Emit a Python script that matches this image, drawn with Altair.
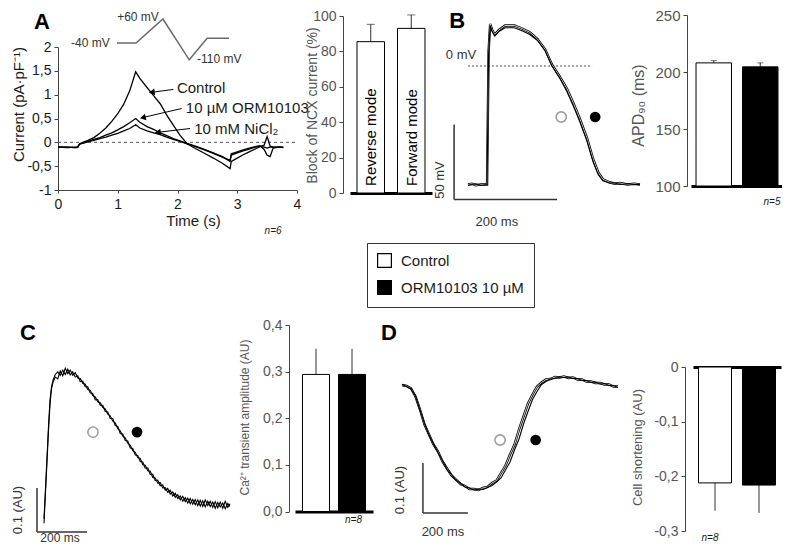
import altair as alt
import pandas as pd

# ============================== DATA ==============================
# ---- Panel A: NCX current evoked by the ramp protocol (time s, current pA/pF)
A_time = [0.0, 0.15, 0.3, 0.33, 0.36, 0.5, 0.6, 0.7, 0.8, 0.9, 1.0, 1.1, 1.2, 1.3, 1.37,
          1.49, 1.6, 1.71, 1.82, 1.93, 2.04, 2.16, 2.3, 2.45, 2.6, 2.75, 2.88, 2.9, 3.0, 3.1,
          3.2, 3.3, 3.38, 3.45, 3.5, 3.55, 3.6, 3.7, 3.77]
A_control = [-0.1, -0.1, -0.11, -0.1, -0.03, 0.04, 0.1, 0.19, 0.3, 0.44, 0.6, 0.8, 1.08, 1.48, 1.34,
             1.15, 0.98, 0.81, 0.57, 0.36, 0.15, -0.03, -0.13, -0.23, -0.33, -0.44, -0.55, -0.4, -0.33, -0.26,
             -0.2, -0.14, -0.09, -0.06, 0.12, -0.08, -0.1, -0.1, -0.1]
A_orm = [-0.1, -0.1, -0.11, -0.1, -0.04, 0.02, 0.06, 0.1, 0.15, 0.2, 0.26, 0.33, 0.41, 0.5, 0.42,
         0.33, 0.27, 0.2, 0.14, 0.08, 0.03, -0.02, -0.08, -0.15, -0.22, -0.3, -0.4, -0.27, -0.22, -0.18,
         -0.14, -0.1, -0.08, -0.1, -0.12, -0.1, -0.1, -0.1, -0.1]
A_nicl2 = [-0.1, -0.11, -0.1, -0.1, -0.04, 0.01, 0.04, 0.08, 0.11, 0.15, 0.19, 0.24, 0.29, 0.37, 0.3,
           0.24, 0.2, 0.16, 0.11, 0.06, 0.02, -0.03, -0.09, -0.16, -0.23, -0.31, -0.38, -0.24, -0.2, -0.16,
           -0.12, -0.09, -0.07, -0.15, -0.27, -0.3, -0.12, -0.1, -0.11]
# voltage-ramp protocol (inset)
A_prot_time = [0, 0.34, 0.82, 1.29, 1.61, 2.0]
A_prot_mv = [-40, -40, 60, -110, -20, -20]
A_prot_labels = ["-40 mV", "+60 mV", "-110 mV"]
A_prot_label_time = [-0.13, 0.375, 1.43]
A_prot_label_mv = [-40, 68, -107]
# trace labels and arrows
A_trace_labels = ["Control", "10 µM ORM10103", "10 mM NiCl₂"]
A_label_time = [1.99, 2.14, 2.28]
A_label_current = [1.13, 0.71, 0.29]
A_arrow_from_time = [1.93, 2.07, 2.21]
A_arrow_from_current = [1.11, 0.71, 0.29]
A_arrow_to_time = [1.57, 1.42, 1.67]
A_arrow_to_current = [1.05, 0.52, 0.21]
# block of NCX current (%)
A_modes = ["Reverse mode", "Forward mode"]
A_block_mean = [85.5, 93]
A_block_sem = [9.8, 7.6]

GROUPS = ["Control", "ORM10103 10 µM"]

# ---- Panel B: action potential (time ms, membrane potential mV) + APD90
B_time = [0, 8, 15, 25, 37, 40, 43, 47, 52, 60, 72, 90, 105, 120, 135, 150, 163, 178, 192, 205,
          217, 231, 243, 253, 262, 275, 285, 295, 310, 322, 334]
B_control = [-79, -78.5, -79.5, -79, -79, 10, 28, 24, 21, 24, 27, 27, 25, 22.5, 18, 11, 1, -7, -15, -25,
             -35, -48, -62, -71, -75.5, -77.5, -78.5, -78, -79, -78.5, -79]
B_orm = [-79.5, -79, -78.5, -79.5, -79, 8, 27, 23, 20, 23, 25.5, 25.5, 23.5, 21, 17, 10, 0, -8, -17, -27,
         -37, -50, -64, -72.5, -76.5, -78, -78, -79, -78.5, -79, -79]
B_apd_mean = [208, 204.5]
B_apd_sem = [2, 3.5]

# ---- Panel C: Ca2+ transient (time ms, fluorescence AU) + amplitude
C_time = [0, 6, 12, 18, 24, 30, 36] + list(range(45, 745, 10)) + [744]
C_control = [0.02, 0.09, 0.16, 0.23, 0.29, 0.325, 0.34,
             0.352, 0.348, 0.366, 0.355, 0.372, 0.36, 0.368, 0.356, 0.362, 0.35,
             0.349, 0.338, 0.336, 0.324, 0.322, 0.31, 0.307, 0.296, 0.294, 0.283,
             0.28, 0.268, 0.264, 0.252, 0.248, 0.235, 0.23, 0.218, 0.214, 0.202,
             0.197, 0.185, 0.181, 0.169, 0.167, 0.153, 0.152, 0.139, 0.138, 0.124,
             0.123, 0.111, 0.112, 0.1, 0.101, 0.09, 0.095, 0.082, 0.088, 0.076,
             0.082, 0.07, 0.078, 0.066, 0.076, 0.063, 0.074, 0.06, 0.072, 0.058,
             0.073, 0.06, 0.07, 0.056, 0.069, 0.055, 0.068, 0.054, 0.07, 0.056,
             0.064]
C_orm = [0.03, 0.1, 0.17, 0.24, 0.3, 0.33, 0.345,
         0.358, 0.364, 0.356, 0.368, 0.358, 0.37, 0.357, 0.364, 0.352, 0.355,
         0.342, 0.343, 0.33, 0.33, 0.316, 0.315, 0.3, 0.301, 0.288, 0.288,
         0.274, 0.273, 0.258, 0.258, 0.242, 0.24, 0.224, 0.223, 0.208, 0.207,
         0.191, 0.19, 0.175, 0.174, 0.16, 0.159, 0.145, 0.146, 0.131, 0.131,
         0.117, 0.118, 0.105, 0.107, 0.095, 0.099, 0.086, 0.091, 0.079, 0.085,
         0.073, 0.081, 0.069, 0.077, 0.064, 0.074, 0.062, 0.073, 0.059, 0.071,
         0.057, 0.07, 0.058, 0.068, 0.054, 0.067, 0.057, 0.066, 0.053, 0.065,
         0.058]
C_amp_mean = [0.294, 0.294]
C_amp_sem = [0.055, 0.055]

# ---- Panel D: cell shortening (time ms, shortening AU) + mean shortening
D_time = list(range(0, 961, 20))
D_control = [0.0, -0.002, -0.007, -0.023, -0.049, -0.079, -0.099, -0.119, -0.133, -0.153,
             -0.167, -0.181, -0.189, -0.198, -0.202, -0.208, -0.208, -0.21, -0.206, -0.204,
             -0.196, -0.191, -0.176, -0.161, -0.139, -0.119, -0.089, -0.063, -0.037, -0.019,
             -0.003, 0.005, 0.011, 0.012, 0.016, 0.015, 0.017, 0.014, 0.015, 0.011,
             0.011, 0.007, 0.007, 0.004, 0.004, 0.001, 0.001, -0.003, -0.003]
D_orm = [0.001, -0.003, -0.008, -0.022, -0.05, -0.077, -0.1, -0.118, -0.135, -0.151,
         -0.169, -0.179, -0.191, -0.196, -0.204, -0.206, -0.21, -0.208, -0.209, -0.205,
         -0.201, -0.194, -0.186, -0.17, -0.154, -0.13, -0.108, -0.078, -0.053, -0.029,
         -0.013, 0.001, 0.007, 0.012, 0.013, 0.016, 0.015, 0.016, 0.013, 0.013,
         0.009, 0.009, 0.005, 0.006, 0.002, 0.003, -0.001, -0.001, -0.005]
D_short_mean = [-0.212, -0.216]
D_short_sem = [0.051, 0.051]

# ============================ LAYOUT ==============================
W, H = 774, 536
M = 8  # page margin around the canvas

FONT = "Liberation Sans"
INK = "#1a1a1a"
GREY = "#555555"
AXC = "#444444"


def P(v):
    return v - M


def lin(domain, page_range):
    return alt.Scale(domain=domain, range=[P(page_range[0]), P(page_range[1])], nice=False, zero=False)


def band(domain, page_range, inner, outer):
    return alt.Scale(domain=domain, range=[P(page_range[0]), P(page_range[1])],
                     paddingInner=inner, paddingOuter=outer)


def num_labels(fmt):
    return "replace(replace(format(datum.value, '%s'), '.', ','), '\u2212', '-')" % fmt


def y_axis(page_x, values, title, title_page_x, title_page_y, title_size, color, fmt,
           label_size=14):
    return alt.Axis(orient="left", offset=-P(page_x), values=values, grid=False,
                    labelExpr=num_labels(fmt), labelFontSize=label_size, labelColor=color,
                    domainColor=AXC, tickColor=AXC, tickSize=4, labelPadding=3,
                    title=title, titleFontSize=title_size, titleFontWeight="normal",
                    titleColor=color, titleAngle=270, titleAlign="center",
                    titleBaseline="middle", titleX=title_page_x - page_x,
                    titleY=P(title_page_y))


def base_axis(orient, page_y):
    off = P(page_y) - H if orient == "bottom" else -P(page_y)
    return alt.Axis(orient=orient, offset=off, labels=False, ticks=False, grid=False,
                    domainColor="black", domainWidth=3, title=None)


def qx(field, xs, axis=None):
    return alt.X(field, type="quantitative", scale=xs, axis=axis)


def qy(field, ys, axis=None):
    return alt.Y(field, type="quantitative", scale=ys, axis=axis)


def texts(labels, xv, yv, xs, ys, **kw):
    df = pd.DataFrame({"x": xv, "y": yv, "label": labels})
    return alt.Chart(df).mark_text(**kw).encode(x=qx("x", xs), y=qy("y", ys), text="label:N")


def band_texts(cats, labels, yv, xs, ys, **kw):
    df = pd.DataFrame({"g": cats, "y": yv, "label": labels})
    return alt.Chart(df).mark_text(**kw).encode(
        x=alt.X("g:N", scale=xs, axis=None), y=qy("y", ys), text="label:N")


def segments(x0, y0, x1, y1, xs, ys, **kw):
    df = pd.DataFrame({"x0": x0, "y0": y0, "x1": x1, "y1": y1})
    return alt.Chart(df).mark_rule(**kw).encode(x=qx("x0", xs), y=qy("y0", ys), x2="x1:Q", y2="y1:Q")


def markers(xv, yv, xs, ys):
    df = pd.DataFrame({"x": xv, "y": yv})
    open_c = alt.Chart(df.iloc[[0]]).mark_point(shape="circle", filled=False, size=105,
                                                stroke="#777777", strokeWidth=1.6).encode(
        x=qx("x", xs), y=qy("y", ys))
    full_c = alt.Chart(df.iloc[[1]]).mark_point(shape="circle", filled=True, size=115,
                                                color="black", opacity=1).encode(
        x=qx("x", xs), y=qy("y", ys))
    return [open_c, full_c]


def paired_traces(t, ctrl, orm, xs, ys, outer_w=2.4, inner_w=0.8):
    c = pd.DataFrame({"t": t, "v": ctrl})
    o = pd.DataFrame({"t": t, "v": orm})
    outer = alt.Chart(c).mark_line(color="black", strokeWidth=outer_w).encode(x=qx("t", xs), y=qy("v", ys))
    inner = alt.Chart(c).mark_line(color="white", strokeWidth=inner_w).encode(x=qx("t", xs), y=qy("v", ys))
    solid = alt.Chart(o).mark_line(color="black", strokeWidth=1.1).encode(x=qx("t", xs), y=qy("v", ys))
    return [outer, inner, solid]


def plain_traces(t, ctrl, orm, xs, ys):
    df = pd.DataFrame({"t": t * 2, "v": ctrl + orm,
                       "trace": ["Control"] * len(t) + ["ORM10103"] * len(t)})
    return [alt.Chart(df).mark_line(color="black", strokeWidth=1.1).encode(
        x=qx("t", xs), y=qy("v", ys), detail="trace:N")]


COLOR = alt.Scale(domain=GROUPS, range=["white", "black"])
LEG = alt.Legend(orient="none", legendX=P(367), legendY=P(243), title=None, direction="vertical",
                 symbolType="square", symbolSize=190, symbolStrokeColor="black",
                 symbolStrokeWidth=1.2, symbolOpacity=1, labelFontSize=15, labelColor=INK,
                 labelOffset=9, rowPadding=8, padding=10, strokeColor="#333333", fillColor="white")


def group_bars(mean, sem, xs, ys, base_value, y_ax, x_ax, caps, cap_size=6):
    ends = [m + s if m >= base_value else m - s for m, s in zip(mean, sem)]
    df = pd.DataFrame({"group": GROUPS, "mean": mean, "end": ends})
    bars = alt.Chart(df).mark_bar(stroke="black", strokeWidth=1).encode(
        x=alt.X("group:N", scale=xs, axis=x_ax),
        y=qy("mean", ys, y_ax), y2=alt.datum(base_value),
        fill=alt.Fill("group:N", scale=COLOR, legend=LEG))
    err = alt.Chart(df).mark_rule(color="#333333", strokeWidth=1).encode(
        x=alt.X("group:N", scale=xs, axis=None), y=qy("mean", ys), y2="end:Q")
    out = [err, bars]
    if caps:
        out.append(alt.Chart(df).mark_tick(color="#333333", size=cap_size, thickness=1).encode(
            x=alt.X("group:N", scale=xs, axis=None), y=qy("end", ys)))
    return out


# ------------------------------ Panel A ------------------------------
xA = lin([0, 4], [58, 297])
yA = lin([-1, 2], [190, 47])
A_x_axis = alt.Axis(orient="bottom", offset=P(190) - H, values=[0, 1, 2, 3, 4], grid=False,
                    labelFlush=False, labelOverlap=False, labelFontSize=14, labelColor=INK,
                    domainColor=AXC, tickColor=AXC, tickSize=3, labelPadding=4,
                    title="Time (s)", titleFontSize=15, titleFontWeight="normal", titleColor=INK,
                    titleX=P(193), titleY=30, titleBaseline="middle", titleAlign="center")
A_y_axis = y_axis(58, [-1, -0.5, 0, 0.5, 1, 1.5, 2], "Current (pA·pF⁻¹)", 18, 104, 15, INK, ".2~f")

n = len(A_time)
A_df = pd.DataFrame({"t": A_time * 3, "i": A_control + A_orm + A_nicl2,
                     "trace": ["Control"] * n + ["ORM10103"] * n + ["NiCl2"] * n})
layers = [
    segments([0], [0], [4], [0], xA, yA, color="#555555", strokeDash=[3, 3], strokeWidth=1),
    alt.Chart(A_df).mark_line(color="black", strokeWidth=1.3).encode(
        x=qx("t", xA, A_x_axis), y=qy("i", yA, A_y_axis), detail="trace:N"),
    segments(A_arrow_from_time, A_arrow_from_current, A_arrow_to_time, A_arrow_to_current,
             xA, yA, color="black", strokeWidth=1),
    texts(A_trace_labels, A_label_time, A_label_current, xA, yA, align="left", baseline="middle",
          fontSize=15, color=INK),
    texts(["A"], [-0.27], [2.53], xA, yA, fontSize=22, fontWeight="bold", color="black"),
    texts(["n=6"], [3.6], [-1.85], xA, yA, fontSize=10, fontStyle="italic", color=INK),
]
for k, ang in enumerate([352, 347, 353]):
    head = pd.DataFrame({"t": [A_arrow_to_time[k]], "i": [A_arrow_to_current[k]]})
    layers.append(alt.Chart(head).mark_point(shape="triangle-left", filled=True, size=45,
                                             color="black", opacity=1, angle=ang).encode(
        x=qx("t", xA), y=qy("i", yA)))

# inset: voltage protocol
xP = lin([0, 2], [117, 229])
yP = lin([-110, 60], [59.8, 19])
prot = pd.DataFrame({"t": A_prot_time, "mv": A_prot_mv})
layers += [
    alt.Chart(prot).mark_line(color="#6a6a6a", strokeWidth=1.5).encode(x=qx("t", xP), y=qy("mv", yP)),
    texts(A_prot_labels[:1], A_prot_label_time[:1], A_prot_label_mv[:1], xP, yP, align="right",
          baseline="middle", fontSize=12, color="#333333"),
    texts(A_prot_labels[1:2], A_prot_label_time[1:2], A_prot_label_mv[1:2], xP, yP, align="center",
          baseline="middle", fontSize=12, color="#333333"),
    texts(A_prot_labels[2:], A_prot_label_time[2:], A_prot_label_mv[2:], xP, yP, align="left",
          baseline="middle", fontSize=12, color="#333333"),
]

# block of NCX current bars
xAb = band(A_modes, [350, 432], 0.321, 0.173)
yAb = lin([0, 100], [193, 16])
Ab_df = pd.DataFrame({"mode": A_modes, "mean": A_block_mean,
                      "end": [m + s for m, s in zip(A_block_mean, A_block_sem)]})
Ab_y_axis = y_axis(343, [0, 20, 40, 60, 80, 100], "Block of NCX current (%)", 312, 105, 14, GREY, ".0f")
layers += [
    alt.Chart(Ab_df).mark_rule(color="#333333").encode(
        x=alt.X("mode:N", scale=xAb, axis=None), y=qy("mean", yAb), y2="end:Q"),
    alt.Chart(Ab_df).mark_tick(color="#333333", size=8, thickness=1).encode(
        x=alt.X("mode:N", scale=xAb, axis=None), y=qy("end", yAb)),
    alt.Chart(Ab_df).mark_bar(fill="white", stroke="black", strokeWidth=1).encode(
        x=alt.X("mode:N", scale=xAb, axis=base_axis("bottom", 193)),
        y=qy("mean", yAb, Ab_y_axis), y2=alt.datum(0)),
    band_texts(A_modes, A_modes, [4, 4], xAb, yAb, angle=270, align="left", baseline="middle",
               fontSize=15, color="black"),
]

# ------------------------------ Panel B ------------------------------
xB = lin([0, 334], [468, 640])
yB = lin([-79, 28], [184.5, 24])
layers += [
    segments([0], [0], [241], [0], xB, yB, color="#555555", strokeDash=[2, 2], strokeWidth=1),
    *paired_traces(B_time, B_control, B_orm, xB, yB),
    segments([-27, -27], [-39, -89], [-27, 173], [-89, -89], xB, yB, color="#333333", strokeWidth=1.5),
    texts(["0 mV"], [-13.6], [7.3], xB, yB, fontSize=13, color="#333333"),
    texts(["200 ms"], [56], [-104], xB, yB, fontSize=13, color="#333333"),
    texts(["50 mV"], [-54], [-76], xB, yB, fontSize=13, angle=270, color="#333333"),
    texts(["B"], [-21], [30], xB, yB, fontSize=22, fontWeight="bold", color="black"),
    *markers([181, 247], [-34, -34], xB, yB),
]

xBb = band(GROUPS, [691, 783], 0.237, 0.108)
yBb = lin([100, 250], [186, 15])
layers += [
    *group_bars(B_apd_mean, B_apd_sem, xBb, yBb, 100,
                y_axis(687, [100, 150, 200, 250], "APD₉₀ (ms)", 638, 105, 16, GREY, ".0f", 15),
                base_axis("bottom", 186), caps=True, cap_size=6),
    band_texts([GROUPS[1]], ["n=5"], [86], xBb, yBb, fontSize=10, fontStyle="italic",
               color=INK, dx=12),
]

# ------------------------------ Panel C ------------------------------
xC = lin([0, 744], [44, 230])
yC = lin([0, 0.4], [532, 356])
layers += [
    *plain_traces(C_time, C_control, C_orm, xC, yC),
    segments([-28, -28], [0.1, 0], [-28, 172], [0, 0], xC, yC, color="#333333", strokeWidth=1.5),
    texts(["200 ms"], [64], [-0.0125], xC, yC, fontSize=12, color="#333333"),
    texts(["0.1 (AU)"], [-104], [0.05], xC, yC, fontSize=13, angle=270, color="#333333"),
    texts(["C"], [-64], [0.452], xC, yC, fontSize=22, fontWeight="bold", color="black"),
    *markers([196, 372], [0.227, 0.227], xC, yC),
]

xCb = band(GROUPS, [295, 373], 0.25, 0.208)
yCb = lin([0, 0.4], [511.5, 325])
layers += [
    *group_bars(C_amp_mean, C_amp_sem, xCb, yCb, 0,
                y_axis(289, [0, 0.1, 0.2, 0.3, 0.4], "Ca²⁺ transient amplitude (AU)", 244, 417, 12,
                       GREY, ".1f"),
                base_axis("bottom", 511.5), caps=False),
    band_texts([GROUPS[1]], ["n=8"], [-0.018], xCb, yCb, fontSize=10, fontStyle="italic", color=INK),
]

# ------------------------------ Panel D ------------------------------
xD = lin([0, 960], [402, 618])
yD = lin([-0.21, 0.02], [490, 375])
layers += [
    *paired_traces(D_time, D_control, D_orm, xD, yD),
    segments([93, 93], [-0.156, -0.256], [93, 293], [-0.256, -0.256], xD, yD, color="#333333",
             strokeWidth=1.5),
    texts(["200 ms"], [182], [-0.294], xD, yD, fontSize=13, color="#333333"),
    texts(["0.1 (AU)"], [-9], [-0.21], xD, yD, fontSize=13, angle=270, color="#333333"),
    texts(["D"], [-58], [0.104], xD, yD, fontSize=22, fontWeight="bold", color="black"),
    *markers([436, 594], [-0.11, -0.11], xD, yD),
]

xDb = band(GROUPS, [693, 781], 0.25, 0.125)
yDb = lin([-0.3, 0], [531, 367])
layers += [
    *group_bars(D_short_mean, D_short_sem, xDb, yDb, 0,
                y_axis(685, [0, -0.1, -0.2, -0.3], "Cell shortening (AU)", 637, 447, 13, GREY, ".2~f"),
                base_axis("top", 367), caps=False),
    band_texts([GROUPS[0]], ["n=8"], [-0.313], xDb, yDb, fontSize=10, fontStyle="italic",
               color=INK, dx=-5),
]

chart = alt.layer(*layers).resolve_scale(x="independent", y="independent").properties(
    width=W, height=H, padding=0, autosize="none", background="white"
).configure(font=FONT).configure_view(stroke=None)

chart.save("out.html", embed_options={"renderer": "svg", "actions": False})
